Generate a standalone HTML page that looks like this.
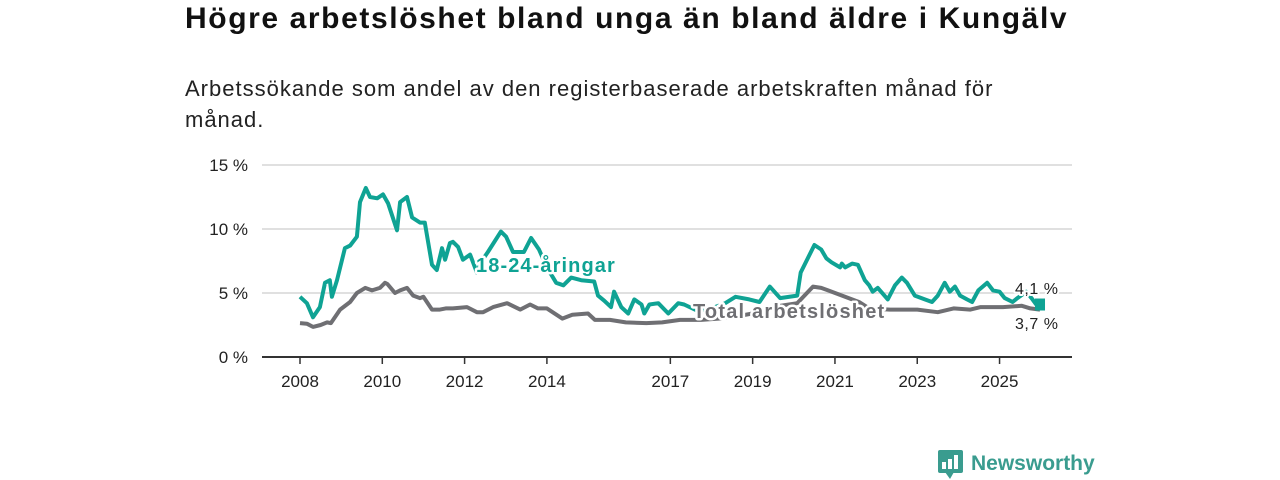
<!DOCTYPE html>
<html><head><meta charset="utf-8">
<style>
body{margin:0;width:1280px;height:480px;background:#fff;font-family:"Liberation Sans","DejaVu Sans",sans-serif;overflow:hidden;position:relative}
#title{position:absolute;left:185px;top:2px;font-size:30px;letter-spacing:1.6px;font-weight:bold;color:#111;margin:0;white-space:nowrap}
#sub{position:absolute;left:185px;top:73px;font-size:22px;letter-spacing:1px;color:#222;line-height:31px;width:840px;margin:0}
svg{position:absolute;left:0;top:0}
</style></head><body>
<h1 id="title">Högre arbetslöshet bland unga än bland äldre i Kungälv</h1>
<p id="sub">Arbetssökande som andel av den registerbaserade arbetskraften månad för månad.</p>
<svg id="chart" width="1280" height="480"></svg>
<script>
const yTicks=[0,5,10,15];
const yTickLabels=["0 %","5 %","10 %","15 %"];
const xTickYears=[2008,2010,2012,2014,2017,2019,2021,2023,2025];
const youngMonths=[0,2,3.8,5.8,7.3,8.7,9.3,10.8,13.1,14.6,16.6,17.5,19.2,20.4,22.5,24.2,25.7,28.3,29.2,31.2,32.7,35,36.4,38.5,39.9,41.4,42.3,43.7,44.6,46.1,47.5,49.6,51.6,53,54.8,58.6,60.1,62.1,65.3,67.4,69.7,72,74.7,76.8,79.1,82,85.8,86.9,88.7,90.7,91.6,93.7,95.7,97.5,99.6,100.4,101.9,104.5,107.4,110.3,112,116,120,124,127,131,134,137,140,145,146,150,152,153.5,155,157.5,158,159,161,162.7,164.7,166,167,168.5,171.4,173.5,175.5,177,179.3,182.2,184.3,186,188,189.5,191,192.5,194.5,196,197.8,200.4,202.1,204,205.5,207.8,209.2,211.8,213.6,214.7,215.8];
const youngValues=[4.7,4.2,3.1,3.9,5.8,6.0,4.7,6.0,8.5,8.7,9.4,12.1,13.2,12.5,12.4,12.7,12.0,9.9,12.1,12.5,10.9,10.5,10.5,7.2,6.8,8.5,7.6,8.9,9.0,8.6,7.6,8.0,6.6,7.5,8.2,9.8,9.4,8.2,8.2,9.3,8.4,7.0,5.8,5.6,6.2,6.0,5.9,4.8,4.4,3.9,5.1,3.9,3.4,4.5,4.1,3.4,4.1,4.2,3.4,4.2,4.1,3.6,3.8,4.2,4.7,4.5,4.3,5.5,4.6,4.8,6.6,8.75,8.4,7.7,7.4,7.0,7.3,7.0,7.3,7.2,6.0,5.6,5.1,5.4,4.5,5.6,6.2,5.8,4.8,4.5,4.3,4.8,5.8,5.1,5.5,4.8,4.5,4.3,5.2,5.8,5.2,5.1,4.6,4.3,4.6,5.1,4.5,4.1,4.1];
const totalMonths=[0,2,3.8,6,7.9,9,11.7,14.6,16.6,19,21,23.3,24.8,25.5,27.7,29.2,31.2,33,35,36,38.5,40.8,42.5,44.6,48.7,51.6,53.4,56.3,60.4,64.2,67.1,69.4,72,76.5,79.4,84,86,90.4,95,101,105.6,110.8,117,122,128,134,140,145,149.6,152,154,160,163,166,172,180,186,190.6,195.5,198.5,205,210.5,213,215.8];
const totalValues=[2.65,2.6,2.35,2.5,2.7,2.65,3.7,4.3,5.0,5.4,5.2,5.4,5.8,5.7,5.0,5.2,5.4,4.8,4.6,4.7,3.7,3.7,3.8,3.8,3.9,3.5,3.5,3.9,4.2,3.7,4.1,3.8,3.8,3.0,3.3,3.4,2.9,2.9,2.7,2.65,2.7,2.9,2.9,3.0,3.2,3.5,4.0,4.2,5.5,5.4,5.2,4.6,4.3,3.8,3.7,3.7,3.5,3.8,3.7,3.9,3.9,4.0,3.8,3.7];
const NS="http://www.w3.org/2000/svg";
const svg=document.getElementById('chart');
const X0=262,X1=1072;
function xm(m){return 300+m*41.15/12;}
function xy(yr){return xm((yr-2008)*12);}
function yv(v){return 357-v*12.8;}
function mk(tag,attrs,parent){const e=document.createElementNS(NS,tag);for(const k in attrs)e.setAttribute(k,attrs[k]);(parent||svg).appendChild(e);return e;}
yTicks.forEach((t,i)=>{
 if(t>0){const g=mk('line',{x1:X0,x2:X1,y1:yv(t),y2:yv(t),stroke:'#d6d6d6','stroke-width':1.5});
 
 }
 const tx=mk('text',{x:248,y:yv(t)+6,'text-anchor':'end','font-size':17,fill:'#222'});
 tx.textContent=yTickLabels[i];
 
 
});
const ax=mk('line',{x1:X0,x2:X1,y1:357,y2:357,stroke:'#333','stroke-width':2});


xTickYears.forEach(yr=>{
 const x=xy(yr);
 const tk=mk('line',{x1:x,x2:x,y1:357,y2:364,stroke:'#333','stroke-width':1.5});
 
 
 const t=mk('text',{x:x,y:387,'text-anchor':'middle','font-size':17,fill:'#222'});
 t.textContent=yr;
 
 
});
function path(ms,vs){return ms.map((m,i)=>(i?'L':'M')+xm(m).toFixed(1)+','+yv(vs[i]).toFixed(1)).join('');}
const tl=mk('path',{d:path(totalMonths,totalValues),fill:'none',stroke:'#6f6f73','stroke-width':4,'stroke-linejoin':'round'});


const yl=mk('path',{d:path(youngMonths,youngValues),fill:'none',stroke:'#0fa394','stroke-width':4,'stroke-linejoin':'round'});


const lastY=youngValues[youngValues.length-1],lastM=youngMonths[youngMonths.length-1];
const em=mk('rect',{x:xm(lastM)-5,y:yv(lastY)-6,width:10,height:12,fill:'#0fa394'});


function lab(txt,x,y,col,size,bold,ls,name){
 const t=mk('text',{x:x,y:y,'font-size':size,fill:col,'font-weight':bold?'bold':'normal','letter-spacing':ls,stroke:'#fff','stroke-width':bold?5:4,'paint-order':'stroke','stroke-linejoin':'round'});
 t.textContent=txt;
 
 
}
lab('18-24-åringar',476,272,'#0fa394',20,true,1.1,'young-series-label');
lab('Total arbetslöshet',693,318,'#6f6f73',20,true,1.2,'total-series-label');
lab(lastY.toFixed(1).replace('.',',')+' %',1015,294,'#222',16,false,0.5,'young-end-value');
lab(totalValues[totalValues.length-1].toFixed(1).replace('.',',')+' %',1015,329,'#222',16,false,0.5,'total-end-value');
const lg=mk('g',{});


mk('rect',{x:938,y:450,width:25,height:23,rx:2,fill:'#3a9c8f'},lg);
mk('path',{d:'M945,472 L950,479 L954,472 Z',fill:'#3a9c8f'},lg);
mk('rect',{x:942,y:462,width:4,height:7,fill:'#fff'},lg);
mk('rect',{x:948,y:459,width:4,height:10,fill:'#fff'},lg);
mk('rect',{x:954,y:455,width:4,height:14,fill:'#fff'},lg);
const lt=mk('text',{x:971,y:470,'font-size':21,fill:'#3a9c8f','font-weight':'bold'},lg);
lt.textContent='Newsworthy';
</script>
</body></html>
